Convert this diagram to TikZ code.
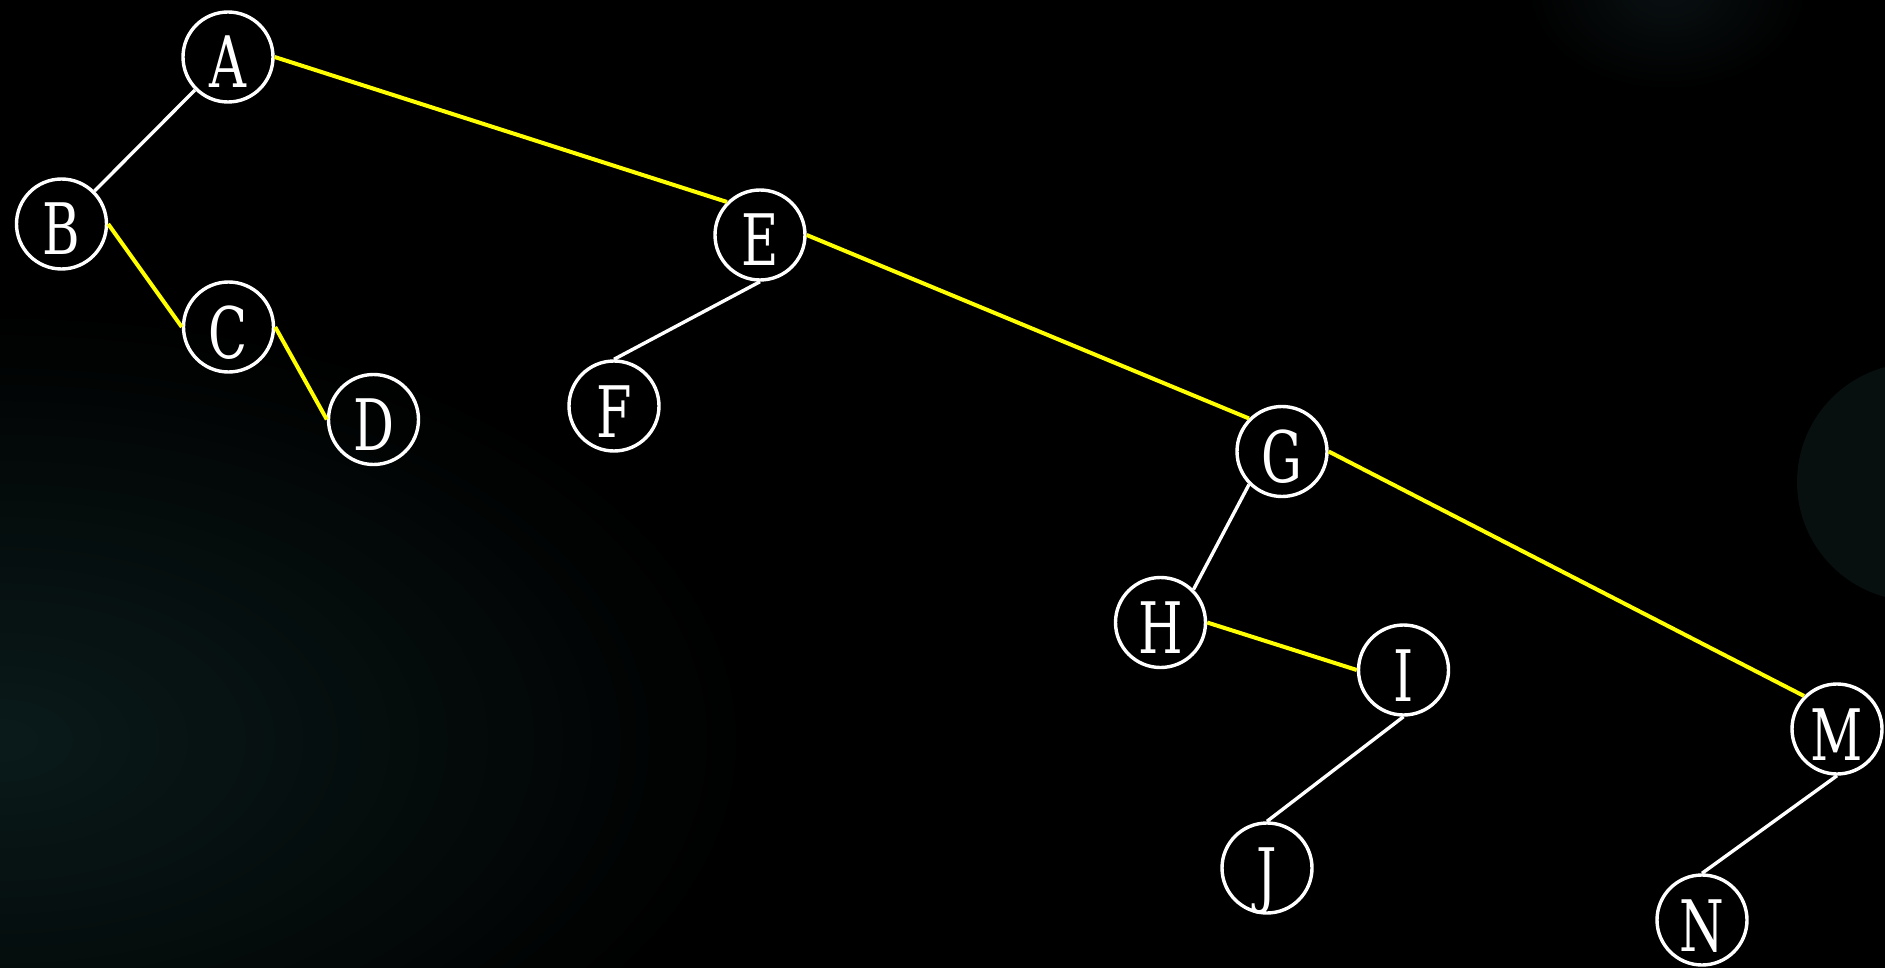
\documentclass[tikz,border=0pt]{standalone}
\usepackage{fontspec}
\setmainfont{DejaVu Serif}[FakeStretch=0.72]
\definecolor{glowA}{RGB}{10,26,26}
\definecolor{glowB}{RGB}{9,16,18}
\definecolor{diskC}{RGB}{7,15,15}
\definecolor{edgeY}{RGB}{255,255,0}
\tikzset{
  tnode/.style={circle,draw=white,line width=1.7pt,minimum size=45pt,inner sep=0pt,
    text=white,font=\fontsize{35.5}{36}\selectfont,text height=31pt,text depth=0pt},
  wedge/.style={draw=white,line width=1.7pt},
  yedge/.style={draw=edgeY,line width=2pt}
}
\begin{document}
\begin{tikzpicture}[x=0.5pt,y=-0.5pt]
\useasboundingbox (0,0) rectangle (1885,968);
\begin{scope}
\clip (0,0) rectangle (1885,968);
\fill[black] (0,0) rectangle (1885,968);
\shade[inner color=glowA,outer color=black] (0,740) ellipse (750 and 430);
\shade[inner color=glowB,outer color=black] (1667,-10) ellipse (140 and 100);
\fill[diskC] (1916,482) circle (119);
\end{scope}
\node[tnode] (A) at (228,57) {A};
\node[tnode] (B) at (61.5,224) {B};
\node[tnode] (C) at (228.5,327) {C};
\node[tnode] (D) at (373.5,419.5) {D};
\node[tnode] (E) at (760,235) {E};
\node[tnode] (F) at (614,406) {F};
\node[tnode] (G) at (1282,451.5) {G};
\node[tnode] (H) at (1160.5,622.5) {H};
\node[tnode] (I) at (1403.5,670) {I};
\node[tnode] (J) at (1267,868) {J};
\node[tnode] (M) at (1837,729) {M};
\node[tnode] (N) at (1702,920) {N};
\draw[wedge] (A.south west) -- (B.north east);
\draw[yedge] (A.east) -- (E.north west);
\draw[yedge] (B.east) -- (C.west);
\draw[yedge] (C.east) -- (D.west);
\draw[wedge] (E.south) -- (F.north);
\draw[yedge] (E.east) -- (G.north west);
\draw[wedge] (G.south west) -- (H.north east);
\draw[yedge] (G.east) -- (M.north west);
\draw[yedge] (H.east) -- (I.west);
\draw[wedge] (I.south) -- (J.north);
\draw[wedge] (M.south) -- (N.north);
\end{tikzpicture}
\end{document}
